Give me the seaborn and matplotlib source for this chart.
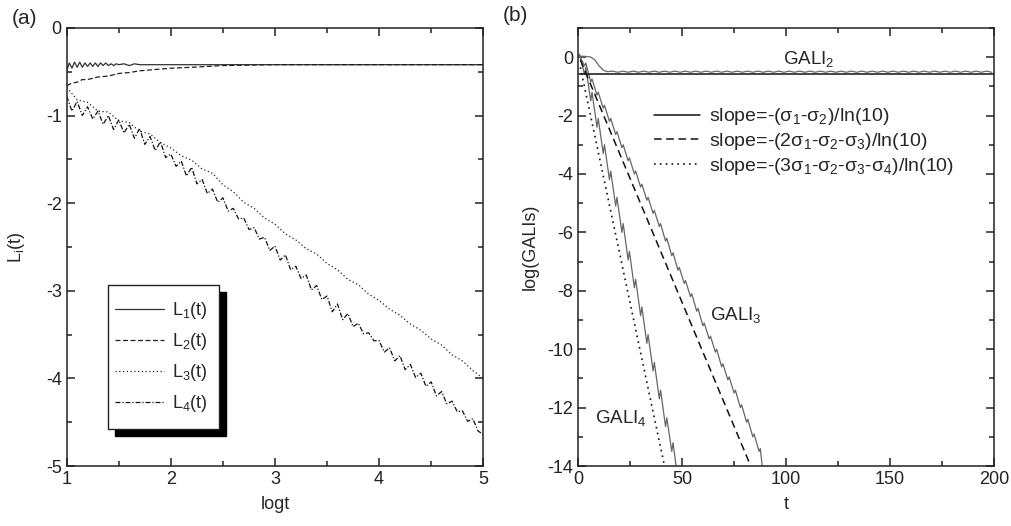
import numpy as np
import matplotlib
matplotlib.use("Agg")
import matplotlib.pyplot as plt
from matplotlib.patches import Rectangle
from matplotlib.ticker import MultipleLocator
import seaborn as sns

# ---- panel (a): Lyapunov-like curves L_i(t) against log t ----
l1_x = [1.0, 1.025, 1.05, 1.075, 1.1, 1.125, 1.15, 1.175, 1.2, 1.225, 1.25, 1.275, 1.3,
        1.325, 1.35, 1.375, 1.4, 1.425, 1.45, 1.475, 1.5, 1.55, 1.6, 1.65, 1.7, 2.0, 3.0, 4.0, 5.0]
l1_y = [-0.49, -0.40, -0.46, -0.39, -0.45, -0.39, -0.45, -0.40, -0.44, -0.40, -0.44, -0.40, -0.44,
        -0.40, -0.43, -0.40, -0.43, -0.41, -0.43, -0.41, -0.42, -0.41, -0.43, -0.41, -0.42, -0.42,
        -0.42, -0.42, -0.42]

l2_x = [1.0, 1.05, 1.1, 1.15, 1.2, 1.3, 1.4, 1.5, 1.6, 1.7, 1.8, 2.0, 2.2, 2.5, 3.0, 3.5, 4.0, 5.0]
l2_y = [-0.66, -0.63, -0.62, -0.59, -0.59, -0.56, -0.55, -0.52, -0.51, -0.49, -0.48, -0.46,
        -0.45, -0.43, -0.42, -0.42, -0.42, -0.42]

l3_x = np.arange(1.0, 5.001, 0.1)
l3_y = [-0.68, -0.82, -0.85, -0.95, -0.96, -1.06, -1.08, -1.18, -1.21, -1.31, -1.37, -1.46,
        -1.51, -1.61, -1.66, -1.79, -1.87, -1.99, -2.06, -2.17, -2.24, -2.35, -2.42, -2.52,
        -2.58, -2.69, -2.76, -2.87, -2.93, -3.04, -3.11, -3.21, -3.28, -3.38, -3.45, -3.55,
        -3.62, -3.73, -3.80, -3.91, -4.00]

l4_x = np.arange(1.0, 5.001, 0.05)
l4_y = [-0.78, -0.95, -0.84, -1.00, -0.90, -1.04, -0.95, -1.10, -1.00, -1.16, -1.05, -1.20,
        -1.10, -1.26, -1.15, -1.33, -1.24, -1.40, -1.30, -1.48, -1.44, -1.58, -1.52, -1.69,
        -1.59, -1.78, -1.73, -1.89, -1.84, -1.99, -1.94, -2.09, -2.06, -2.18, -2.17, -2.30,
        -2.28, -2.41, -2.39, -2.54, -2.49, -2.65, -2.59, -2.76, -2.72, -2.86, -2.82, -2.99,
        -2.94, -3.10, -3.06, -3.24, -3.15, -3.33, -3.26, -3.41, -3.37, -3.49, -3.48, -3.57,
        -3.57, -3.70, -3.65, -3.80, -3.74, -3.90, -3.84, -3.99, -3.94, -4.09, -4.04, -4.20,
        -4.15, -4.29, -4.26, -4.38, -4.37, -4.49, -4.46, -4.60, -4.64]

legend_a = ["L$_1$(t)", "L$_2$(t)", "L$_3$(t)", "L$_4$(t)"]

# ---- panel (b): log(GALIs) against t ----
gali2_t = [0, 2, 4, 6, 8, 10, 12, 14] + list(np.arange(16.5, 200.1, 2.5))
gali2_y = [0.02, 0.03, 0.02, 0.0, -0.1, -0.3, -0.45, -0.5,
           -0.48, -0.52, -0.48, -0.52, -0.48, -0.52, -0.48, -0.52, -0.48, -0.52, -0.48, -0.52,
           -0.48, -0.52, -0.48, -0.52, -0.48, -0.52, -0.48, -0.52, -0.48, -0.52, -0.48, -0.52,
           -0.48, -0.52, -0.48, -0.52, -0.48, -0.52, -0.48, -0.52, -0.48, -0.52, -0.48, -0.52,
           -0.48, -0.52, -0.48, -0.52, -0.48, -0.52, -0.48, -0.52, -0.48, -0.52, -0.48, -0.52,
           -0.48, -0.52, -0.48, -0.52, -0.48, -0.52, -0.48, -0.52, -0.48, -0.52, -0.48, -0.52,
           -0.48, -0.52, -0.48, -0.52, -0.48, -0.52, -0.48, -0.52, -0.48, -0.52, -0.48, -0.52,
           -0.48, -0.52]

gali3_t = [0, 0.6, 3, 3.6, 6, 6.6, 9, 9.6, 12, 12.6, 15, 15.6, 18, 18.6, 21, 21.6, 24, 24.6,
           27, 27.6, 30, 30.6, 33, 33.6, 36, 36.6, 39, 39.6, 42, 42.6, 45, 45.6, 48, 48.6,
           51, 51.6, 54, 54.6, 57, 57.6, 60, 60.6, 63, 63.6, 66, 66.6, 69, 69.6, 72, 72.6,
           75, 75.6, 78, 78.6, 81, 81.6, 84, 84.6, 87, 87.6, 89]
gali3_y = [0.0, 0.05, -0.3, -0.2, -0.85, -0.75, -1.3, -1.2, -1.75, -1.65, -2.2, -2.1, -2.65,
           -2.55, -3.1, -3.0, -3.55, -3.45, -4.0, -3.9, -4.45, -4.35, -4.9, -4.8, -5.35, -5.25,
           -5.8, -5.7, -6.3, -6.2, -6.8, -6.7, -7.3, -7.2, -7.75, -7.65, -8.2, -8.1, -8.7, -8.6,
           -9.2, -9.1, -9.65, -9.55, -10.1, -10.0, -10.6, -10.5, -11.05, -10.95, -11.5, -11.4,
           -12.0, -11.9, -12.5, -12.4, -13.0, -12.9, -13.5, -13.4, -14.3]

gali4_t = [0, 0.6, 3, 3.6, 6, 6.6, 9, 9.6, 12, 12.6, 15, 15.6, 18, 18.6, 21, 21.6, 24, 24.6,
           27, 27.6, 30, 30.6, 33, 33.6, 36, 36.6, 39, 39.6, 42, 42.6, 45, 45.6, 48]
gali4_y = [0.0, 0.1, -0.6, -0.35, -1.5, -1.2, -2.4, -2.1, -3.3, -3.0, -4.2, -3.9, -5.1, -4.8,
           -6.0, -5.7, -6.95, -6.65, -7.9, -7.6, -8.85, -8.55, -9.8, -9.5, -10.75, -10.45,
           -11.7, -11.4, -12.65, -12.35, -13.5, -13.2, -14.5]

slope2_t, slope2_y = [0, 200], [-0.58, -0.58]
slope3_t, slope3_y = [1, 83], [-0.1, -14.0]
slope4_t, slope4_y = [1, 41.5], [-0.35, -14.0]

legend_b = ["slope=-(σ$_1$-σ$_2$)/ln(10)",
            "slope=-(2σ$_1$-σ$_2$-σ$_3$)/ln(10)",
            "slope=-(3σ$_1$-σ$_2$-σ$_3$-σ$_4$)/ln(10)"]

sns.set_style("ticks")
plt.rcParams["font.family"] = ["Liberation Sans", "DejaVu Sans"]
plt.rcParams["mathtext.fontset"] = "custom"
plt.rcParams["mathtext.rm"] = "Liberation Sans"
plt.rcParams["mathtext.it"] = "Liberation Sans:italic"
plt.rcParams["axes.unicode_minus"] = False

fig = plt.figure(figsize=(10.11, 5.26), dpi=100)
ax1 = fig.add_axes([0.066, 0.114, 0.412, 0.833])
ax2 = fig.add_axes([0.572, 0.114, 0.411, 0.833])

lw = 0.9
sns.lineplot(x=l1_x, y=l1_y, ax=ax1, color="#333333", lw=lw, estimator=None, sort=False)
sns.lineplot(x=l2_x, y=l2_y, ax=ax1, color="#222222", lw=lw, estimator=None, sort=False,
             linestyle=(0, (4, 2)))
sns.lineplot(x=l3_x, y=l3_y, ax=ax1, color="#222222", lw=lw, estimator=None, sort=False,
             linestyle=(0, (1, 2)))
sns.lineplot(x=l4_x, y=l4_y, ax=ax1, color="#111111", lw=lw, estimator=None, sort=False,
             linestyle=(0, (4, 1.5, 1, 1.5)))

sns.lineplot(x=gali2_t, y=gali2_y, ax=ax2, color="#666666", lw=lw, estimator=None, sort=False)
sns.lineplot(x=gali3_t, y=gali3_y, ax=ax2, color="#666666", lw=lw, estimator=None, sort=False)
sns.lineplot(x=gali4_t, y=gali4_y, ax=ax2, color="#666666", lw=lw, estimator=None, sort=False)
sns.lineplot(x=slope2_t, y=slope2_y, ax=ax2, color="#111111", lw=1.1, estimator=None, sort=False)
sns.lineplot(x=slope3_t, y=slope3_y, ax=ax2, color="#111111", lw=1.1, estimator=None, sort=False,
             linestyle=(0, (5, 3)))
sns.lineplot(x=slope4_t, y=slope4_y, ax=ax2, color="#111111", lw=1.2, estimator=None, sort=False,
             linestyle=(0, (1, 2.5)))

for ax in (ax1, ax2):
    ax.tick_params(direction="in", which="both", top=True, right=True, labelsize=13,
                   width=1.1, colors="#222222")
    ax.tick_params(which="major", length=6)
    ax.tick_params(which="minor", length=3.5)
    for s in ax.spines.values():
        s.set_linewidth(1.1)
        s.set_color("#222222")

ax1.set_xlim(1, 5)
ax1.set_ylim(-5, 0)
ax1.xaxis.set_major_locator(MultipleLocator(1))
ax1.xaxis.set_minor_locator(MultipleLocator(0.5))
ax1.yaxis.set_major_locator(MultipleLocator(1))
ax1.yaxis.set_minor_locator(MultipleLocator(0.5))
ax1.set_xlabel("logt", fontsize=13, labelpad=6)
ax1.set_ylabel("L$_\\mathrm{i}$(t)", fontsize=13, labelpad=14)

ax2.set_xlim(0, 200)
ax2.set_ylim(-14, 1)
ax2.xaxis.set_major_locator(MultipleLocator(50))
ax2.xaxis.set_minor_locator(MultipleLocator(25))
ax2.yaxis.set_major_locator(MultipleLocator(2))
ax2.yaxis.set_minor_locator(MultipleLocator(1))
ax2.set_xlabel("t", fontsize=13, labelpad=6)
ax2.set_ylabel("log(GALIs)", fontsize=13, labelpad=6)

# legend (a) with boxed frame and solid shadow
ax1.add_patch(Rectangle((0.116, 0.068), 0.267, 0.329, transform=ax1.transAxes,
                        fc="black", ec="black", zorder=4))
ax1.add_patch(Rectangle((0.099, 0.084), 0.267, 0.329, transform=ax1.transAxes,
                        fc="white", ec="#222222", lw=1.0, zorder=5))
leg_a = ax1.legend(ax1.get_lines()[:4], legend_a, loc="center", bbox_to_anchor=(0.228, 0.249),
                   frameon=False, fontsize=13, handlelength=2.7, handletextpad=0.45,
                   labelspacing=0.55, borderpad=0)
leg_a.set_zorder(6)

leg_b = ax2.legend(ax2.get_lines()[3:6], legend_b, loc="center left",
                   bbox_to_anchor=(0.183, 0.740), frameon=False, fontsize=14,
                   handlelength=2.36, handletextpad=0.46, labelspacing=0.2, borderpad=0,
                   borderaxespad=0)

ax2.text(111, -0.22, "GALI$_2$", fontsize=13.5, ha="center", va="baseline")
ax2.text(63.5, -9.0, "GALI$_3$", fontsize=13.5, ha="left", va="baseline")
ax2.text(8.2, -12.53, "GALI$_4$", fontsize=13.5, ha="left", va="baseline")

fig.text(0.012, 0.964, "(a)", fontsize=15, va="center", ha="left")
fig.text(0.497, 0.97, "(b)", fontsize=15, va="center", ha="left")

fig.savefig("out.png", dpi=100)
